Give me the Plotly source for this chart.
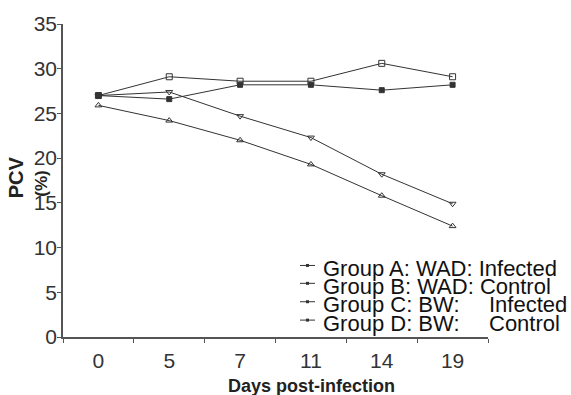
import plotly.graph_objects as go

# Sampling days (category axis) and packed cell volume per group
days = ["0", "5", "7", "11", "14", "19"]
group_a = [27.0, 27.4, 24.7, 22.3, 18.2, 14.9]   # WAD infected
group_b = [27.0, 29.1, 28.6, 28.6, 30.6, 29.1]   # WAD control
group_c = [25.9, 24.2, 22.0, 19.3, 15.8, 12.4]   # BW infected
group_d = [27.0, 26.6, 28.2, 28.2, 27.6, 28.2]   # BW control

y_ticks = [0, 5, 10, 15, 20, 25, 30, 35]

INK = "#333333"
FONT = "Liberation Sans, Arial, sans-serif"

series = [
    ("Group A: WAD: Infected", group_a, "triangle-down-open", 6),
    ("Group B: WAD: Control", group_b, "square-open", 6),
    ("Group C: BW: Infected", group_c, "triangle-up-open", 6),
    ("Group D: BW: Control", group_d, "square", 5),
]

fig = go.Figure()
for name, vals, sym, size in series:
    fig.add_trace(go.Scatter(
        x=days, y=vals, name=name, mode="lines+markers",
        line=dict(color=INK, width=1),
        marker=dict(symbol=sym, size=size, color=INK,
                    line=dict(color=INK, width=1)),
        showlegend=False,
    ))

fig.update_layout(
    width=571, height=395,
    margin=dict(l=63, r=83, t=22, b=58),
    paper_bgcolor="white", plot_bgcolor="white",
    font=dict(family=FONT, color=INK, size=20),
)
fig.update_xaxes(
    type="category", range=[-0.5, 5.5],
    showline=True, linecolor="#555555", linewidth=1.5,
    ticks="outside", tickson="boundaries", ticklen=4, tickcolor="#555555",
    showgrid=False, zeroline=False,
    tickfont=dict(size=21, color=INK), ticklabelstandoff=4,
)
fig.update_yaxes(
    range=[0, 35], tickvals=y_ticks,
    showline=True, linecolor="#555555", linewidth=1.5,
    ticks="outside", ticklen=4, tickcolor="#555555",
    showgrid=False, zeroline=False,
    tickfont=dict(size=21, color=INK), ticklabelstandoff=-4,
)

# Axis titles
fig.add_annotation(text="<b>Days post-infection</b>", xref="paper", yref="paper",
                   x=(311 - 63) / 425, y=-0.155, xanchor="center", yanchor="middle",
                   showarrow=False, font=dict(size=18, color="#222222"))
fig.add_annotation(text="<b>PCV</b>", xref="paper", yref="paper",
                   x=-0.11, y=(337 - 176) / 315, xanchor="center", yanchor="middle",
                   textangle=-90, showarrow=False, font=dict(size=20, color="#222222"))
fig.add_annotation(text="<b>(%)</b>", xref="paper", yref="paper",
                   x=-0.05, y=(337 - 183) / 315, xanchor="center", yanchor="middle",
                   textangle=-90, showarrow=False, font=dict(size=17, color="#222222"))

# Key in the lower right of the plot area
rows = [
    ("Group A: WAD: Infected", None, 268),
    ("Group B: WAD: Control", None, 286),
    ("Group C: BW:", "Infected", 304.5),
    ("Group D: BW:", "Control", 323),
]
for label, tail, yc in rows:
    yp = (337 - yc) / 315
    fig.add_annotation(text=label, xref="paper", yref="paper",
                       x=(321 - 63) / 425, y=yp, xanchor="left", yanchor="middle",
                       showarrow=False, font=dict(size=22, color="#111111"))
    if tail:
        fig.add_annotation(text=tail, xref="paper", yref="paper",
                           x=(487 - 63) / 425, y=yp, xanchor="left", yanchor="middle",
                           showarrow=False, font=dict(size=22, color="#111111"))
    ys = (337 - (yc - 3)) / 315
    fig.add_shape(type="line", xref="paper", yref="paper",
                  x0=(300 - 63) / 425, x1=(315 - 63) / 425, y0=ys, y1=ys,
                  line=dict(color=INK, width=1))
    fig.add_shape(type="rect", xref="paper", yref="paper",
                  x0=(306 - 63) / 425, x1=(309 - 63) / 425,
                  y0=ys - 1.5 / 315, y1=ys + 1.5 / 315,
                  line=dict(width=0), fillcolor=INK)

fig.write_html("out.html")
